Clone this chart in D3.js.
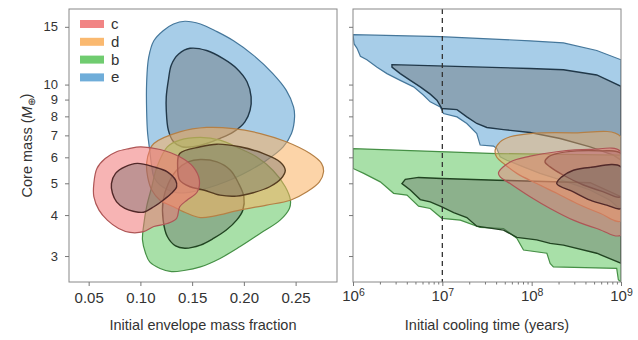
<!DOCTYPE html>
<html>
<head>
<meta charset="utf-8">
<script src="https://cdnjs.cloudflare.com/ajax/libs/d3/7.8.5/d3.min.js"></script>
<style>
  html, body { margin: 0; padding: 0; background: #fff; }
  svg { display: block; font-family: "Liberation Sans", Arial, sans-serif; }
</style>
</head>
<body>
<svg id="chart" width="638" height="340"></svg>
<script>

// ---- data: contour outlines ----
// left panel: [envelope mass fraction, core mass]
const cOuterEnv = [[0.100,6.46],[0.119,6.34],[0.138,6.02],[0.151,5.61],[0.157,5.11],[0.155,4.71],[0.145,4.44],[0.138,4.24],[0.135,3.91],[0.126,3.77],[0.113,3.69],[0.103,3.56],[0.090,3.54],[0.079,3.64],[0.068,3.86],[0.060,4.14],[0.055,4.55],[0.055,4.99],[0.058,5.55],[0.066,5.95],[0.077,6.24],[0.089,6.38]];
const cInnerEnv = [[0.097,5.75],[0.113,5.61],[0.126,5.42],[0.134,5.11],[0.135,4.88],[0.130,4.66],[0.122,4.44],[0.113,4.24],[0.103,4.08],[0.093,4.11],[0.085,4.19],[0.077,4.39],[0.073,4.66],[0.072,4.99],[0.076,5.36],[0.085,5.61]];
const dOuterEnv = [[0.113,6.61],[0.138,7.17],[0.164,7.40],[0.190,7.34],[0.216,7.09],[0.241,6.69],[0.264,6.16],[0.275,5.75],[0.277,5.42],[0.273,5.05],[0.261,4.71],[0.245,4.44],[0.222,4.29],[0.196,4.14],[0.171,3.97],[0.158,3.93],[0.145,4.05],[0.132,4.24],[0.119,4.44],[0.111,4.77],[0.107,5.23],[0.106,5.75],[0.109,6.31]];
const dInnerEnv = [[0.138,6.16],[0.158,6.46],[0.174,6.58],[0.196,6.46],[0.219,6.16],[0.235,5.81],[0.240,5.48],[0.236,5.17],[0.225,4.88],[0.209,4.68],[0.193,4.57],[0.177,4.60],[0.161,4.77],[0.148,4.88],[0.138,5.11],[0.136,5.61]];
const bOuterEnv = [[0.126,6.46],[0.138,6.77],[0.158,6.90],[0.177,6.77],[0.196,6.38],[0.212,6.02],[0.228,5.48],[0.240,4.88],[0.245,4.44],[0.244,4.19],[0.235,3.86],[0.216,3.52],[0.196,3.20],[0.177,2.95],[0.158,2.78],[0.142,2.71],[0.130,2.69],[0.119,2.75],[0.109,2.88],[0.105,3.06],[0.102,3.36],[0.103,3.69],[0.106,4.24],[0.111,4.88],[0.116,5.61]];
const bInnerEnv = [[0.158,5.91],[0.174,5.81],[0.187,5.48],[0.195,4.99],[0.200,4.55],[0.199,4.14],[0.193,3.86],[0.183,3.60],[0.171,3.40],[0.158,3.24],[0.143,3.17],[0.134,3.22],[0.126,3.44],[0.122,3.86],[0.122,4.44],[0.127,4.99],[0.135,5.48],[0.146,5.81]];
const eOuterEnv = [[0.143,15.6],[0.158,15.3],[0.174,14.5],[0.190,13.6],[0.209,12.3],[0.228,10.8],[0.241,9.6],[0.248,8.55],[0.249,7.97],[0.246,7.09],[0.238,6.46],[0.222,5.88],[0.206,5.48],[0.190,5.17],[0.174,4.94],[0.158,4.77],[0.145,4.68],[0.135,4.68],[0.127,4.77],[0.119,4.94],[0.113,5.23],[0.111,5.61],[0.109,6.31],[0.107,7.09],[0.106,8.35],[0.106,10.07],[0.108,12.1],[0.113,13.6],[0.122,14.6],[0.132,15.3]];
const eInnerEnv = [[0.148,12.9],[0.164,12.7],[0.180,12.0],[0.193,11.2],[0.203,10.2],[0.207,9.17],[0.206,8.35],[0.201,7.70],[0.190,7.17],[0.177,6.85],[0.164,6.61],[0.151,6.46],[0.140,6.46],[0.132,6.69],[0.127,7.26],[0.125,8.35],[0.125,9.17],[0.127,10.3],[0.130,11.5],[0.137,12.4]];

// right panel: [initial cooling time (yr), core mass]
const cOuterTime = [[4.25e7,5.38],[5.74e7,5.81],[9.61e7,6.05],[1.91e8,6.24],[4.51e8,6.34],[1e9,6.24],[1e9,3.48],[5.35e8,3.64],[2.93e8,3.86],[1.61e8,4.19],[9.61e7,4.55],[5.74e7,4.99],[4.44e7,5.23]];
const cInnerTime = [[1.91e8,4.99],[2.17e8,5.23],[2.93e8,5.48],[4.51e8,5.59],[1e9,5.61],[1e9,4.19],[6.92e8,4.29],[4.51e8,4.44],[2.93e8,4.71]];
const dOuterTime = [[3.9e7,6.31],[4.44e7,6.69],[5.74e7,6.93],[9.61e7,7.09],[2.93e8,7.12],[1e9,6.93],[1e9,3.84],[5.83e8,4.05],[3.2e8,4.34],[1.91e8,4.66],[1.14e8,4.99],[6.82e7,5.36],[4.84e7,5.75],[4.07e7,6.0]];
const dInnerTime = [[1.41e8,5.81],[1.54e8,6.02],[1.91e8,6.16],[3.2e8,6.28],[5.83e8,6.28],[1e9,6.16],[1e9,4.55],[6.35e8,4.71],[3.8e8,4.94],[2.27e8,5.29],[1.61e8,5.61]];
const bOuterTime = [[1e6,6.38],[4.07e7,6.16],[1e9,6.09],[1e9,2.5],[9.34e8,2.54],[8.95e8,2.75],[1.75e8,2.78],[1.61e8,2.85],[1.48e8,3.06],[8.1e7,3.13],[6.82e7,3.40],[4.84e7,3.64],[2.65e7,3.67],[1.59e7,3.86],[9.89e6,3.91],[7.32e6,4.19],[5.42e6,4.26],[4.02e6,4.60],[2.85e6,4.66],[2.02e6,5.05],[1.32e6,5.36],[1e6,5.55]];
const bInnerTime = [[3.53e6,4.99],[3.85e6,5.14],[5.42e6,5.21],[9.89e6,5.17],[4.07e7,5.11],[4.51e8,5.02],[1e9,4.55],[1e9,2.85],[5.35e8,3.06],[2.27e8,3.24],[1.61e8,3.28],[1.14e8,3.36],[6.82e7,3.42],[4.84e7,3.60],[2.43e7,3.70],[1.88e7,3.93],[1.34e7,4.07],[9.89e6,4.24],[7.32e6,4.39],[5.66e6,4.46],[4.38e6,4.77]];
const eOuterTime = [[1e6,14.2],[9.5e6,14.0],[9.6e7,13.6],[2.27e8,13.4],[5.35e8,12.7],[1e9,11.9],[1e9,4.14],[7.54e8,4.44],[4.51e8,4.77],[2.47e8,5.05],[1.24e8,5.36],[8.1e7,5.61],[5.27e7,5.88],[4.44e7,6.02],[4.07e7,6.38],[3.74e7,6.49],[2.65e7,6.54],[2.43e7,7.09],[1.88e7,7.61],[1.46e7,7.97],[1.03e7,8.16],[9.47e6,8.55],[7.32e6,8.86],[6.17e6,9.28],[4.77e6,9.84],[3.38e6,10.3],[2.4e6,10.8],[1.86e6,11.3],[1.43e6,11.9],[1.21e6,12.2],[1.11e6,12.9],[1.03e6,13.3]];
const eInnerTime = [[2.73e6,11.5],[9.61e7,11.2],[2.27e8,11.1],[5.35e8,10.7],[1e9,9.88],[1e9,5.88],[8.22e8,6.09],[4.51e8,6.46],[2.08e8,6.85],[9.61e7,7.14],[4.84e7,7.29],[3.15e7,7.40],[2.43e7,7.61],[1.88e7,7.97],[1.46e7,8.39],[9.89e6,8.45],[8.7e6,8.96],[7.32e6,9.35],[5.66e6,9.84],[4.38e6,10.3],[3.38e6,10.8],[2.73e6,11.3]];

const planets = ["c", "d", "b", "e"];
const planetColors = ["#f07777", "#fab161", "#61c761", "#5fa4d5"];
const massTicks = [3, 4, 5, 6, 7, 8, 9, 10, 15];
const envelopeTicks = [0.05, 0.10, 0.15, 0.20, 0.25];
const timeTicks = [1e6, 1e7, 1e8, 1e9];
const cutoffTime = 1e7;

// ---- layout ----
const svg = d3.select("#chart");
const plotTop = 9, plotBottom = 282;
const leftPanel = { x0: 69, x1: 337 };
const rightPanel = { x0: 353, x1: 621 };
const tickFont = "15px", yTickFont = "13px", titleFont = "14.5px";

const y = d3.scaleLog().domain([2.5, 17]).range([plotBottom, plotTop]);
const xEnv = d3.scaleLinear().domain([0.031, 0.29]).range([leftPanel.x0, leftPanel.x1]);
const xTime = d3.scaleLog().domain([1e6, 1e9]).range([rightPanel.x0, rightPanel.x1]);

const color = d3.scaleOrdinal().domain(planets).range(planetColors);

//draw order: e, b, d, c (c on top)
const envContours = { e: [eOuterEnv, eInnerEnv], b: [bOuterEnv, bInnerEnv], d: [dOuterEnv, dInnerEnv], c: [cOuterEnv, cInnerEnv] };
const timeContours = { e: [eOuterTime, eInnerTime], b: [bOuterTime, bInnerTime], d: [dOuterTime, dInnerTime], c: [cOuterTime, cInnerTime] };

const defs = svg.append("defs");
[["clipL", leftPanel], ["clipR", rightPanel]].forEach(([id, p]) => {
    defs.append("clipPath").attr("id", id)
        .append("rect")
        .attr("x", p.x0).attr("y", plotTop)
        .attr("width", p.x1 - p.x0).attr("height", plotBottom - plotTop);
});

function drawContours(clipId, contours, x, curveFor, opacity) {
    const g = svg.append("g").attr("clip-path", `url(#${clipId})`);
    Object.keys(contours).forEach(key => {
        const base = color(key);
        const [outer, inner] = contours[key];
        const line = d3.line()
            .x(d => x(d[0]))
            .y(d => y(d[1]))
            .curve(curveFor(key));
        g.append("path")
            .attr("d", line(outer))
            .attr("fill", base)
            .attr("fill-opacity", opacity(key))
            .attr("stroke", d3.color(base).darker(0.9))
            .attr("stroke-width", 1.2);
        g.append("path")
            .attr("d", line(inner))
            .attr("fill", "#5a5a5a")
            .attr("fill-opacity", 0.35)
            .attr("stroke", d3.color(base).darker(3))
            .attr("stroke-width", 1.4);
    });
    return g;
}

drawContours("clipL", envContours, xEnv, () => d3.curveCatmullRomClosed.alpha(0.5), () => 0.55);
const gR = drawContours("clipR", timeContours, xTime,
    k => (k === "e" || k === "b") ? d3.curveLinearClosed : d3.curveCatmullRomClosed.alpha(0.5),
    k => (k === "c" || k === "d") ? 0.45 : 0.55);

// dashed cutoff line
gR.append("line")
    .attr("x1", xTime(cutoffTime)).attr("x2", xTime(cutoffTime))
    .attr("y1", plotTop).attr("y2", plotBottom)
    .attr("stroke", "#333")
    .attr("stroke-width", 1.3)
    .attr("stroke-dasharray", "5,4");

// frames
[leftPanel, rightPanel].forEach(p => {
    svg.append("rect")
        .attr("x", p.x0).attr("y", plotTop)
        .attr("width", p.x1 - p.x0).attr("height", plotBottom - plotTop)
        .attr("fill", "none")
        .attr("stroke", "#888")
        .attr("stroke-width", 1);
});

// axes
function styleAxis(g, size = tickFont) {
    g.select(".domain").remove();
    g.selectAll(".tick line").attr("stroke", "#777");
    g.selectAll(".tick text").attr("fill", "#333").style("font-size", size)
        .style("font-family", "'Liberation Sans', Arial, sans-serif");
}

svg.append("g")
    .attr("transform", `translate(${leftPanel.x0},0)`)
    .call(d3.axisLeft(y).tickValues(massTicks).tickFormat(d3.format("d")).tickSize(4).tickPadding(7))
    .call(styleAxis, yTickFont);

svg.append("g")
    .attr("transform", `translate(${rightPanel.x0},0)`)
    .call(d3.axisLeft(y).tickValues(massTicks).tickFormat("").tickSize(4))
    .call(styleAxis);

svg.append("g")
    .attr("transform", `translate(0,${plotBottom})`)
    .call(d3.axisBottom(xEnv).tickValues(envelopeTicks).tickFormat(d3.format(".2f")).tickSize(4).tickPadding(6))
    .call(styleAxis);

// minor log ticks on the time axis
const minorTimeTicks = [];
timeTicks.slice(0, -1).forEach(t => { for (let k = 2; k < 10; k++) minorTimeTicks.push(t * k); });

svg.append("g")
    .attr("transform", `translate(0,${plotBottom})`)
    .call(d3.axisBottom(xTime).tickValues(minorTimeTicks).tickFormat("").tickSize(2.5))
    .call(styleAxis);

const timeAxis = svg.append("g")
    .attr("transform", `translate(0,${plotBottom})`)
    .call(d3.axisBottom(xTime).tickValues(timeTicks).tickFormat("").tickSize(4).tickPadding(4))
    .call(styleAxis);

timeAxis.selectAll(".tick text")
    .each(function (d) {
        const t = d3.select(this);
        t.text(null);
        t.append("tspan").text("10");
        t.append("tspan")
            .attr("dy", "-0.45em")
            .style("font-size", "10.5px")
            .text(Math.round(Math.log10(d)));
    });

// axis titles
svg.append("text")
    .attr("x", (leftPanel.x0 + leftPanel.x1) / 2)
    .attr("y", 330)
    .attr("text-anchor", "middle")
    .attr("fill", "#333")
    .style("font-size", titleFont)
    .text("Initial envelope mass fraction");

svg.append("text")
    .attr("x", (rightPanel.x0 + rightPanel.x1) / 2)
    .attr("y", 330)
    .attr("text-anchor", "middle")
    .attr("fill", "#333")
    .style("font-size", titleFont)
    .text("Initial cooling time (years)");

const yTitle = svg.append("text")
    .attr("transform", `translate(32,${(plotTop + plotBottom) / 2}) rotate(-90)`)
    .attr("text-anchor", "middle")
    .attr("fill", "#333")
    .style("font-size", titleFont);
yTitle.append("tspan").text("Core mass (");
yTitle.append("tspan").style("font-style", "italic").text("M");
yTitle.append("tspan").attr("dy", "0.3em").style("font-size", "10px").text("⊕");
yTitle.append("tspan").attr("dy", "-0.3em").text(")");

// legend
const legend = svg.append("g").attr("transform", "translate(80,24)");
planets.forEach((p, i) => {
    const row = legend.append("g").attr("transform", `translate(0,${i * 17.8})`);
    row.append("rect")
        .attr("x", 0).attr("y", -4)
        .attr("width", 24).attr("height", 8)
        .attr("fill", color(p))
        .attr("fill-opacity", 0.9);
    row.append("text")
        .attr("x", 31).attr("y", 5)
        .attr("fill", "#333")
        .style("font-size", tickFont)
        .text(p);
});

</script>
</body>
</html>
